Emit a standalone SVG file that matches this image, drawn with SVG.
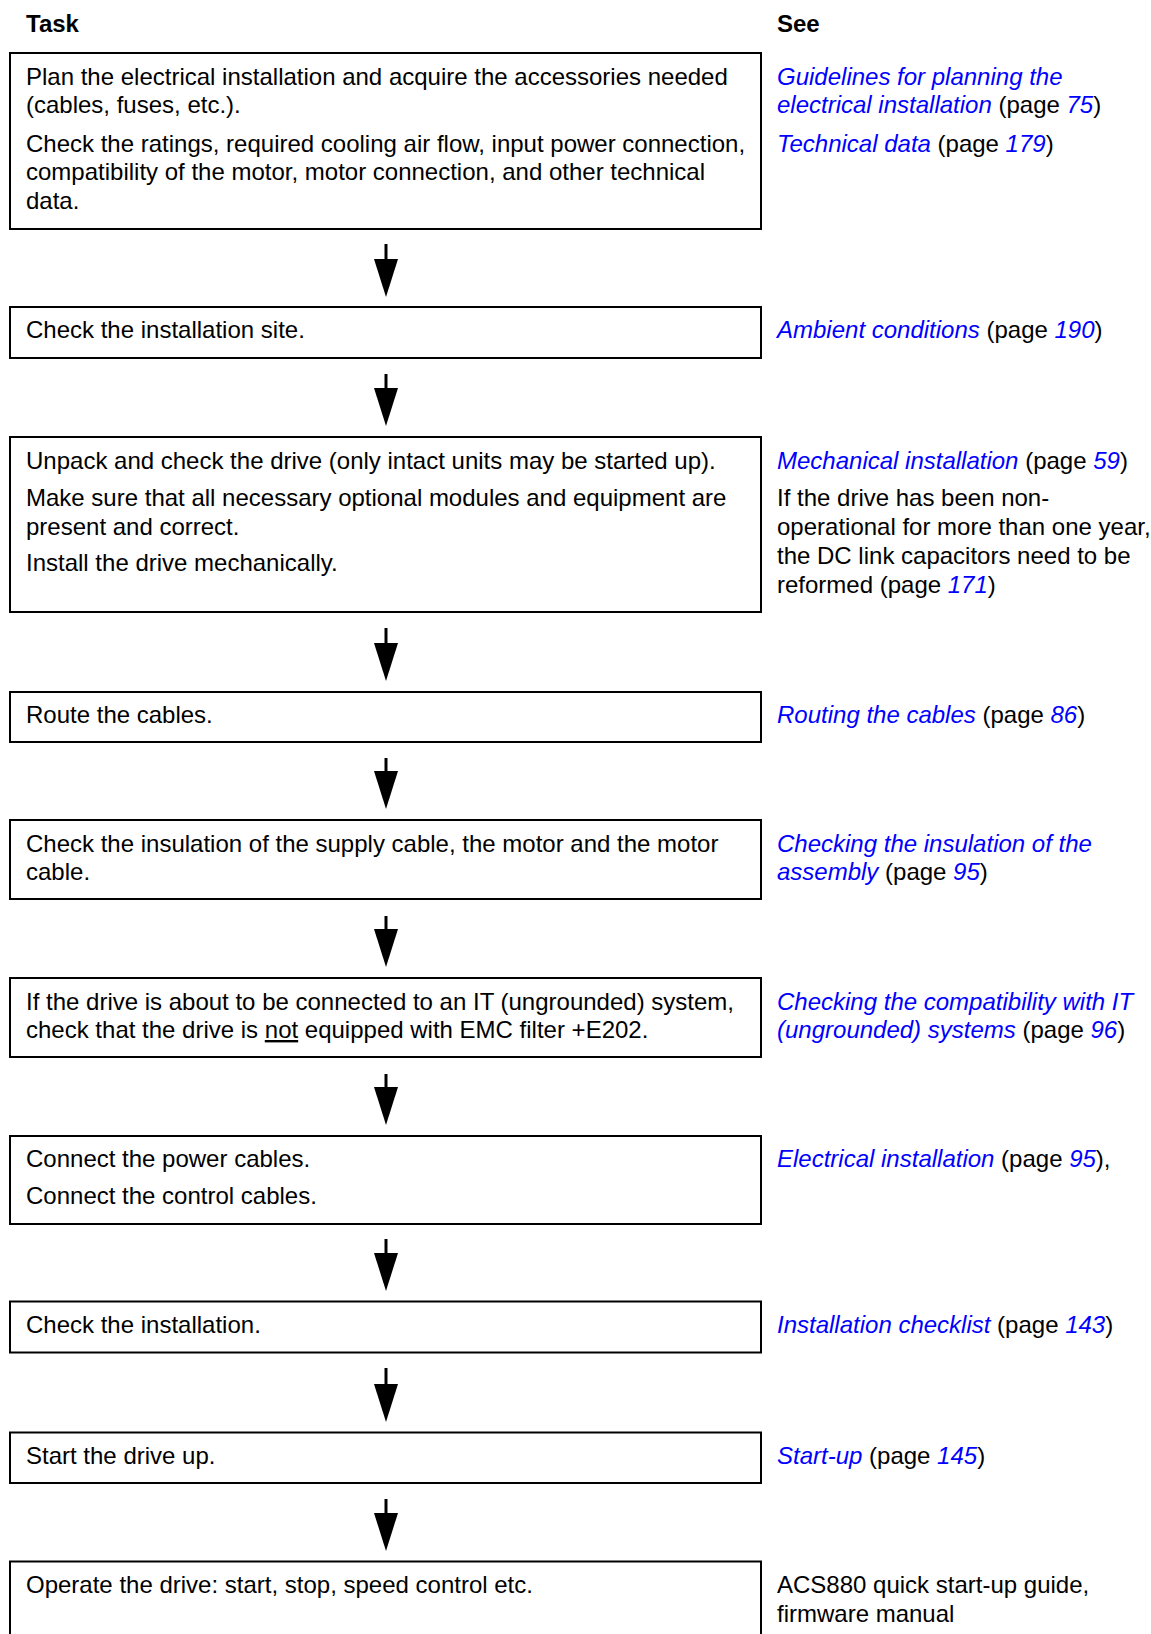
<svg xmlns="http://www.w3.org/2000/svg" width="1151" height="1634" viewBox="0 0 1151 1634">
<style>
text{font-family:"Liberation Sans",Arial,sans-serif;font-size:24px;fill:#000}
.h{font-weight:bold}
.l{font-style:italic;fill:#0000ff}
.box{fill:#fff;stroke:#000;stroke-width:2}
.conn{stroke:#000;stroke-width:3;fill:none}
</style>
<defs>
<marker id="ah" viewBox="0 0 38 24" refX="2" refY="12" markerWidth="38" markerHeight="24" markerUnits="userSpaceOnUse" orient="auto">
<path d="M0,0 L38,12 L0,24 Z" fill="#000"/>
</marker>
</defs>
<rect width="1151" height="1634" fill="#fff"/>
<g id="headers">
<text class="h" x="26" y="32">Task</text>
<text class="h" x="777" y="32">See</text>
</g>
<g id="connectors">
<line class="conn" x1="386" y1="244" x2="386" y2="261" marker-end="url(#ah)"/>
<line class="conn" x1="386" y1="374" x2="386" y2="390" marker-end="url(#ah)"/>
<line class="conn" x1="386" y1="628" x2="386" y2="645" marker-end="url(#ah)"/>
<line class="conn" x1="386" y1="758" x2="386" y2="773" marker-end="url(#ah)"/>
<line class="conn" x1="386" y1="916" x2="386" y2="931" marker-end="url(#ah)"/>
<line class="conn" x1="386" y1="1074" x2="386" y2="1089" marker-end="url(#ah)"/>
<line class="conn" x1="386" y1="1239" x2="386" y2="1255" marker-end="url(#ah)"/>
<line class="conn" x1="386" y1="1368" x2="386" y2="1386" marker-end="url(#ah)"/>
<line class="conn" x1="386" y1="1499" x2="386" y2="1515" marker-end="url(#ah)"/>
</g>
<g id="step1">
<rect class="box" x="10" y="53" width="751" height="176"/>
<text x="26" y="85">Plan the electrical installation and acquire the accessories needed</text>
<text x="26" y="113">(cables, fuses, etc.).</text>
<text x="26" y="151.5">Check the ratings, required cooling air flow, input power connection,</text>
<text x="26" y="180">compatibility of the motor, motor connection, and other technical</text>
<text x="26" y="208.5">data.</text>
<text x="777" y="85"><tspan class="l">Guidelines for planning the</tspan></text>
<text x="777" y="113"><tspan class="l">electrical installation</tspan> (page <tspan class="l">75</tspan>)</text>
<text x="777" y="151.5"><tspan class="l">Technical data</tspan> (page <tspan class="l">179</tspan>)</text>
</g>
<g id="step2">
<rect class="box" x="10" y="307" width="751" height="51"/>
<text x="26" y="338">Check the installation site.</text>
<text x="777" y="338"><tspan class="l">Ambient conditions</tspan> (page <tspan class="l">190</tspan>)</text>
</g>
<g id="step3">
<rect class="box" x="10" y="437" width="751" height="175"/>
<text x="26" y="469">Unpack and check the drive (only intact units may be started up).</text>
<text x="26" y="505.5">Make sure that all necessary optional modules and equipment are</text>
<text x="26" y="534.5">present and correct.</text>
<text x="26" y="571">Install the drive mechanically.</text>
<text x="777" y="469"><tspan class="l">Mechanical installation</tspan> (page <tspan class="l">59</tspan>)</text>
<text x="777" y="505.5">If the drive has been non-</text>
<text x="777" y="534.5">operational for more than one year,</text>
<text x="777" y="563.5">the DC link capacitors need to be</text>
<text x="777" y="592.5">reformed (page <tspan class="l">171</tspan>)</text>
</g>
<g id="step4">
<rect class="box" x="10" y="692" width="751" height="50"/>
<text x="26" y="723">Route the cables.</text>
<text x="777" y="723"><tspan class="l">Routing the cables</tspan> (page <tspan class="l">86</tspan>)</text>
</g>
<g id="step5">
<rect class="box" x="10" y="820" width="751" height="79"/>
<text x="26" y="851.5">Check the insulation of the supply cable, the motor and the motor</text>
<text x="26" y="880">cable.</text>
<text x="777" y="851.5"><tspan class="l">Checking the insulation of the</tspan></text>
<text x="777" y="880"><tspan class="l">assembly</tspan> (page <tspan class="l">95</tspan>)</text>
</g>
<g id="step6">
<rect class="box" x="10" y="978" width="751" height="79"/>
<text x="26" y="1009.5">If the drive is about to be connected to an IT (ungrounded) system,</text>
<text x="26" y="1038">check that the drive is <tspan text-decoration="underline">not</tspan> equipped with EMC filter +E202.</text>
<text x="777" y="1009.5"><tspan class="l">Checking the compatibility with IT</tspan></text>
<text x="777" y="1038"><tspan class="l">(ungrounded) systems</tspan> (page <tspan class="l">96</tspan>)</text>
</g>
<g id="step7">
<rect class="box" x="10" y="1136" width="751" height="88"/>
<text x="26" y="1167">Connect the power cables.</text>
<text x="26" y="1204">Connect the control cables.</text>
<text x="777" y="1167"><tspan class="l">Electrical installation</tspan> (page <tspan class="l">95</tspan>),</text>
</g>
<g id="step8">
<rect class="box" x="10" y="1301.5" width="751" height="51"/>
<text x="26" y="1333">Check the installation.</text>
<text x="777" y="1333"><tspan class="l">Installation checklist</tspan> (page <tspan class="l">143</tspan>)</text>
</g>
<g id="step9">
<rect class="box" x="10" y="1432.5" width="751" height="50.5"/>
<text x="26" y="1464">Start the drive up.</text>
<text x="777" y="1464"><tspan class="l">Start-up</tspan> (page <tspan class="l">145</tspan>)</text>
</g>
<g id="step10">
<rect class="box" x="10" y="1561.5" width="751" height="90"/>
<text x="26" y="1593">Operate the drive: start, stop, speed control etc.</text>
<text x="777" y="1593">ACS880 quick start-up guide,</text>
<text x="777" y="1622">firmware manual</text>
</g>
</svg>
